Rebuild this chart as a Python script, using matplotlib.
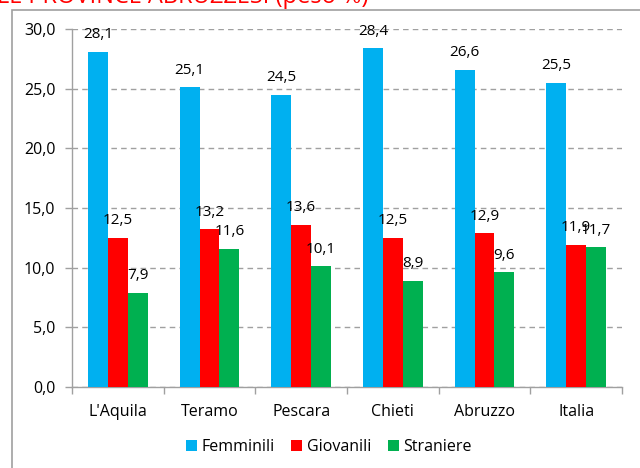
import matplotlib
matplotlib.use("Agg")
import matplotlib.pyplot as plt
import numpy as np
from matplotlib.patches import Rectangle
from matplotlib.ticker import FuncFormatter

categories = ["L'Aquila", "Teramo", "Pescara", "Chieti", "Abruzzo", "Italia"]
femminili = [28.1, 25.1, 24.5, 28.4, 26.6, 25.5]
giovanili = [12.5, 13.2, 13.6, 12.5, 12.9, 11.9]
straniere = [7.9, 11.6, 10.1, 8.9, 9.6, 11.7]
series_names = ["Femminili", "Giovanili", "Straniere"]
colors = ["#00B0F0", "#FF0000", "#00B050"]
title = "LE PROVINCE ABRUZZESI (peso %)"

plt.rcParams['font.family'] = ['Open Sans', 'DejaVu Sans']

fig = plt.figure(figsize=(6.4, 4.68), dpi=100)
W, H = 640, 468

# frame
fig.patches.append(Rectangle((12 / W, -0.1), 1.2, 1 - 10 / H + 0.1, transform=fig.transFigure,
                             fill=False, edgecolor="#A0A0A0", linewidth=1.2))
fig.text(-0.005, 1 + 3 / H, title, color="#FF0000", fontsize=17, ha="left", va="center")

ax = fig.add_axes([72 / W, 1 - 387 / H, (622 - 72) / W, (387 - 29) / H])
x = np.arange(len(categories))
bw = 0.218
for i, (vals, name, c) in enumerate(zip([femminili, giovanili, straniere], series_names, colors)):
    pos = x + (i - 1) * bw
    ax.bar(pos, vals, width=bw, color=c, label=name, zorder=3)
    for px, v in zip(pos, vals):
        ax.text(px, v + 0.8, f"{v:.1f}".replace(".", ","), ha="center", va="bottom",
                fontsize=11, color="black", zorder=4)

ax.set_xlim(-0.5, len(categories) - 0.5)
ax.set_ylim(0, 30)
ax.set_yticks(np.arange(0, 31, 5))
ax.yaxis.set_major_formatter(FuncFormatter(lambda v, p: f"{v:.1f}".replace(".", ",")))
ax.set_xticks(x)
ax.set_xticklabels(categories)
ax.set_xticks(np.arange(-0.5, len(categories)), minor=True)
ax.tick_params(axis="x", which="major", length=0, pad=12, labelsize=11.5)
ax.tick_params(axis="x", which="minor", length=5, color="#A0A0A0", width=1)
ax.tick_params(axis="y", length=5, color="#A0A0A0", width=1, labelsize=11.5, pad=7)
ax.grid(axis="y", linestyle=(0, (4, 3)), color="#A0A0A0", linewidth=1, zorder=0)
for s in ["top", "right"]:
    ax.spines[s].set_visible(False)
for s in ["left", "bottom"]:
    ax.spines[s].set_color("#A0A0A0")
    ax.spines[s].set_linewidth(1)

handles, labels = ax.get_legend_handles_labels()
fig.legend(handles, labels, loc="center", bbox_to_anchor=(329 / W, 1 - 447 / H), ncol=3,
           frameon=False, fontsize=11.5, handlelength=0.7, handleheight=0.7,
           handletextpad=0.3, columnspacing=1.0)

fig.savefig("out.png", dpi=100)
